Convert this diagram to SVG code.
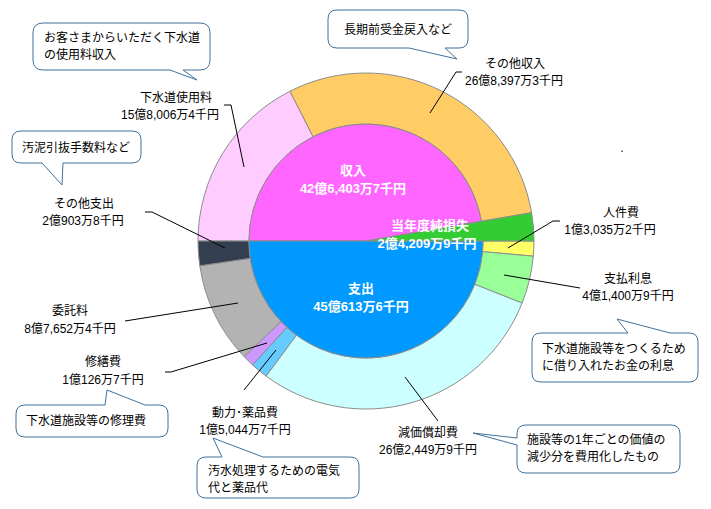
<svg xmlns="http://www.w3.org/2000/svg" width="711" height="509" viewBox="0 0 711 509">
<style>
.s{stroke:#8c8c8c;stroke-width:1}
.l{fill:none;stroke:#000;stroke-width:1}
.t{font-family:"Liberation Sans","Noto Sans CJK JP",sans-serif;font-size:12px;fill:#000;text-anchor:middle}
.w{font-family:"Liberation Sans","Noto Sans CJK JP",sans-serif;font-size:13px;font-weight:bold;fill:#fff;text-anchor:middle}
.c{fill:#fff;stroke:#41719c;stroke-width:1}
.ct{font-family:"Liberation Sans","Noto Sans CJK JP",sans-serif;font-size:12px;fill:#000}
</style>
<rect width="711" height="509" fill="#fff"/>
<g id="ring">
<path class="s" fill="#FFCCFF" d="M198,241 A168,168 0 0 1 290,91.2 L313.1,136.7 A117,117 0 0 0 249,241 Z"/>
<path class="s" fill="#FFCC66" d="M290,91.2 A168,168 0 0 1 531.6,212.7 L481.3,221.3 A117,117 0 0 0 313.1,136.7 Z"/>
<path class="s" fill="#FFFF66" d="M534,241 A168,168 0 0 1 533.3,256.2 L482.5,251.6 A117,117 0 0 0 483,241 Z"/>
<path class="s" fill="#99FF99" d="M533.3,256.2 A168,168 0 0 1 522.1,303.1 L474.7,284.3 A117,117 0 0 0 482.5,251.6 Z"/>
<path class="s" fill="#CCFFFF" d="M522.1,303.1 A168,168 0 0 1 266.1,376.1 L296.4,335.1 A117,117 0 0 0 474.7,284.3 Z"/>
<path class="s" fill="#66CCFF" d="M266.1,376.1 A168,168 0 0 1 252.5,364.9 L287,327.3 A117,117 0 0 0 296.4,335.1 Z"/>
<path class="s" fill="#CC99FF" d="M252.5,364.9 A168,168 0 0 1 244.1,356.6 L281.1,321.5 A117,117 0 0 0 287,327.3 Z"/>
<path class="s" fill="#B3B3B3" d="M244.1,356.6 A168,168 0 0 1 199.8,265.8 L250.3,258.3 A117,117 0 0 0 281.1,321.5 Z"/>
<path class="s" fill="#333F50" d="M199.8,265.8 A168,168 0 0 1 198,241 L249,241 A117,117 0 0 0 250.3,258.3 Z"/>
</g>
<g id="inner">
<path class="s" fill="#FF66FF" d="M366,241 L249,241 A117,117 0 0 1 481.3,221.3 Z"/>
<path class="s" fill="#0099FF" d="M366,241 L483,241 A117,117 0 1 1 249,241 Z"/>
<path fill="#33CC33" stroke="#8c8c8c" d="M366,241 L531.6,212.7 A168,168 0 0 1 534,241 Z"/>
</g>
<g id="center-labels">
<text class="w" x="353" y="175">収入</text>
<text class="w" x="353" y="193">42億6,403万7千円</text>
<text class="w" x="430" y="230">当年度純損失</text>
<text class="w" x="427" y="248">2億4,209万9千円</text>
<text class="w" x="361" y="293">支出</text>
<text class="w" x="361" y="311">45億613万6千円</text>
</g>
<g id="connectors">
<polyline class="l" points="224,105 231,105 244,167"/>
<polyline class="l" points="462,72 456,72 430,113"/>
<polyline class="l" points="560,221 553,221 508,248"/>
<polyline class="l" points="504,275 580,288"/>
<polyline class="l" points="145,212 152,212 225,248"/>
<polyline class="l" points="125,321 238,303"/>
<polyline class="l" points="165,372 171,372 267,343"/>
<polyline class="l" points="244,390 276,350"/>
<polyline class="l" points="405,377 438,421"/>
</g>
<g id="labels">
<text class="t" x="176" y="102">下水道使用料</text>
<text class="t" x="170" y="119">15億8,006万4千円</text>
<text class="t" x="515" y="68">その他収入</text>
<text class="t" x="514" y="85">26億8,397万3千円</text>
<text class="t" x="621" y="217">人件費</text>
<text class="t" x="610" y="234">1億3,035万2千円</text>
<text class="t" x="628" y="283">支払利息</text>
<text class="t" x="628" y="300">4億1,400万9千円</text>
<text class="t" x="84" y="208">その他支出</text>
<text class="t" x="83" y="225">2億903万8千円</text>
<text class="t" x="70" y="315">委託料</text>
<text class="t" x="70" y="333">8億7,652万4千円</text>
<text class="t" x="103" y="366">修繕費</text>
<text class="t" x="103" y="384">1億126万7千円</text>
<text class="t" x="245" y="417">動力･薬品費</text>
<text class="t" x="245" y="434">1億5,044万7千円</text>
<text class="t" x="428" y="437">減価償却費</text>
<text class="t" x="428" y="454">26億2,449万9千円</text>
<text class="t" x="622" y="152">.</text>
</g>
<g id="callout-1">
<path class="c" d="M43,23 H200 Q210,23 210,33 V60 Q210,70 200,70 H183 L197,80 L170,70 H43 Q33,70 33,60 V33 Q33,23 43,23 Z"/>
<text class="ct" x="44" y="42">お客さまからいただく下水道</text>
<text class="ct" x="44" y="59">の使用料収入</text>
</g>
<g id="callout-2">
<path class="c" d="M337,10 H459 Q468,10 468,19 V39 Q468,48 459,48 H445 L457,59 L409,48 H337 Q328,48 328,39 V19 Q328,10 337,10 Z"/>
<text class="ct" x="344" y="34">長期前受金戻入など</text>
</g>
<g id="callout-3">
<path class="c" d="M21,131 H132 Q141,131 141,140 V154 Q141,163 132,163 H63 L62,185 L42,163 H21 Q12,163 12,154 V140 Q12,131 21,131 Z"/>
<text class="ct" x="22" y="152">汚泥引抜手数料など</text>
</g>
<g id="callout-4">
<path class="c" d="M541,333 H628 L617,319 L670,333 H689 Q698,333 698,342 V373 Q698,382 689,382 H541 Q532,382 532,373 V342 Q532,333 541,333 Z"/>
<text class="ct" x="542" y="353">下水道施設等をつくるため</text>
<text class="ct" x="542" y="370">に借り入れたお金の利息</text>
</g>
<g id="callout-5">
<path class="c" d="M25,405 H105 L107,390 L145,405 H159 Q168,405 168,414 V428 Q168,437 159,437 H25 Q16,437 16,428 V414 Q16,405 25,405 Z"/>
<text class="ct" x="26" y="425">下水道施設等の修理費</text>
</g>
<g id="callout-6">
<path class="c" d="M206,457 H222 L213,438 L263,457 H350 Q359,457 359,466 V489 Q359,498 350,498 H206 Q197,498 197,489 V466 Q197,457 206,457 Z"/>
<text class="ct" x="208" y="475">汚水処理するための電気</text>
<text class="ct" x="208" y="492">代と薬品代</text>
</g>
<g id="callout-7">
<path class="c" d="M526,425 H671 Q680,425 680,434 V464 Q680,473 671,473 H526 Q517,473 517,464 V445 L473,433 L517,438 V434 Q517,425 526,425 Z"/>
<text class="ct" x="527" y="444">施設等の1年ごとの価値の</text>
<text class="ct" x="527" y="461">減少分を費用化したもの</text>
</g>
</svg>
